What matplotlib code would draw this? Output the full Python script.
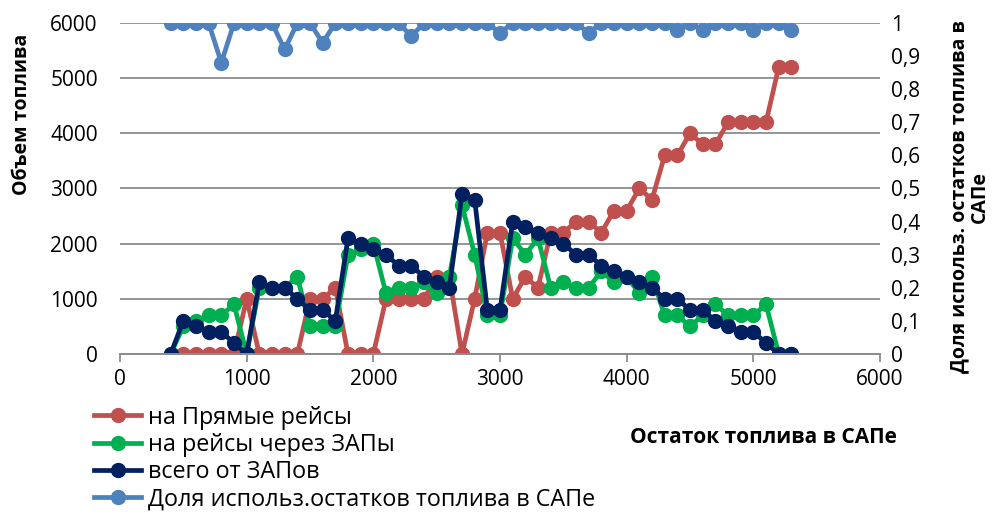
import matplotlib
matplotlib.use("Agg")
import matplotlib.pyplot as plt
from matplotlib.ticker import FuncFormatter, MultipleLocator

plt.rcParams['font.family'] = ['Open Sans', 'DejaVu Sans']

# Остаток топлива в САПе
ostatok = list(range(400, 5400, 100))

pryamye = [0, 0, 0, 0, 0, 0, 1000, 0, 0, 0,
           0, 1000, 1000, 1200, 0, 0, 0, 1000, 1000, 1000,
           1000, 1400, 1400, 0, 1000, 2200, 2200, 1000, 1400, 1200,
           2200, 2200, 2400, 2400, 2200, 2600, 2600, 3000, 2800, 3600,
           3600, 4000, 3800, 3800, 4200, 4200, 4200, 4200, 5200, 5200]

cherez_zap = [0, 500, 600, 700, 700, 900, 0, 1200, 1200, 1200,
              1400, 500, 500, 500, 1800, 1900, 2000, 1100, 1200, 1200,
              1300, 1100, 1400, 2700, 1800, 700, 700, 2100, 1800, 2100,
              1200, 1300, 1200, 1200, 1500, 1300, 1400, 1100, 1400, 700,
              700, 500, 700, 900, 700, 700, 700, 900, 0, 0]

vsego_zap = [0, 600, 500, 400, 400, 200, 0, 1300, 1200, 1200,
             1000, 800, 800, 600, 2100, 2000, 1900, 1800, 1600, 1600,
             1400, 1300, 1200, 2900, 2800, 800, 800, 2400, 2300, 2200,
             2100, 2000, 1800, 1800, 1600, 1500, 1400, 1300, 1200, 1000,
             1000, 800, 800, 600, 500, 400, 400, 200, 0, 0]

dolya = [1, 1, 1, 1, 0.88, 1, 1, 1, 1, 0.92,
         1, 1, 0.94, 1, 1, 1, 1, 1, 1, 0.96,
         1, 1, 1, 1, 1, 1, 0.97, 1, 1, 1,
         1, 1, 1, 0.97, 1, 1, 1, 1, 1, 1,
         0.98, 1, 0.98, 1, 1, 1, 0.98, 1, 1, 0.98]

labels = ["на Прямые рейсы", "на рейсы через ЗАПы", "всего от ЗАПов",
          "Доля использ.остатков топлива в САПе"]
colors = ["#C0504D", "#00B050", "#002060", "#4F81BD"]

fig = plt.figure(figsize=(9.99, 5.16), dpi=100)
ax = fig.add_axes([0.1201, 0.314, 0.7608, 0.6414])
ax2 = ax.twinx()

lw, ms = 3.4, 10
h1, = ax.plot(ostatok, pryamye, color=colors[0], lw=lw, marker='o', ms=ms, label=labels[0])
h2, = ax.plot(ostatok, cherez_zap, color=colors[1], lw=lw, marker='o', ms=ms, label=labels[1])
h3, = ax.plot(ostatok, vsego_zap, color=colors[2], lw=lw, marker='o', ms=ms, label=labels[2])
h4, = ax2.plot(ostatok, dolya, color=colors[3], lw=lw, marker='o', ms=ms, label=labels[3])

ax.set_xlim(0, 6000)
ax.set_ylim(0, 6000)
ax.xaxis.set_major_locator(MultipleLocator(1000))
ax.yaxis.set_major_locator(MultipleLocator(1000))
ax.grid(axis='y', color='#8c8c8c', lw=1.3)
ax.set_axisbelow(True)

ax2.set_ylim(0, 1)
ax2.yaxis.set_major_locator(MultipleLocator(0.1))
ax2.yaxis.set_major_formatter(FuncFormatter(
    lambda v, p: "0" if abs(v) < 1e-9 else ("1" if abs(v - 1) < 1e-9 else f"{v:.1f}".replace('.', ','))))

for a in (ax, ax2):
    for s in ('top', 'left', 'right'):
        a.spines[s].set_visible(False)
    a.spines['bottom'].set_color('#8c8c8c')
    a.spines['bottom'].set_linewidth(1.3)

fs = 15
ax.tick_params(axis='x', direction='out', length=6, width=1.3, color='#8c8c8c',
               labelsize=fs, pad=5)
ax.tick_params(axis='y', length=0, labelsize=fs, pad=16)
ax2.tick_params(axis='y', length=0, labelsize=fs, pad=8)

fig.text(22 / 999, 1 - 114 / 516, "Объем топлива", fontsize=14, fontweight='bold',
         rotation=90, ha='center', va='center')
fig.text(970 / 999, 1 - 197 / 516, "Доля использ. остатков топлива в\nСАПе",
         fontsize=14, fontweight='bold', rotation=90, ha='center', va='center',
         linespacing=1.05, multialignment='center')
fig.text(0.764, 0.152, "Остаток топлива в САПе", fontsize=15, fontweight='bold',
         ha='center', va='center')

fig.legend(handles=[h1, h2, h3, h4], loc='upper left', bbox_to_anchor=(0.085, 0.232),
           frameon=False, fontsize=16.8, handlelength=2.0, labelspacing=0.14,
           handletextpad=0.3, borderaxespad=0)

fig.savefig("out.png", dpi=100)
